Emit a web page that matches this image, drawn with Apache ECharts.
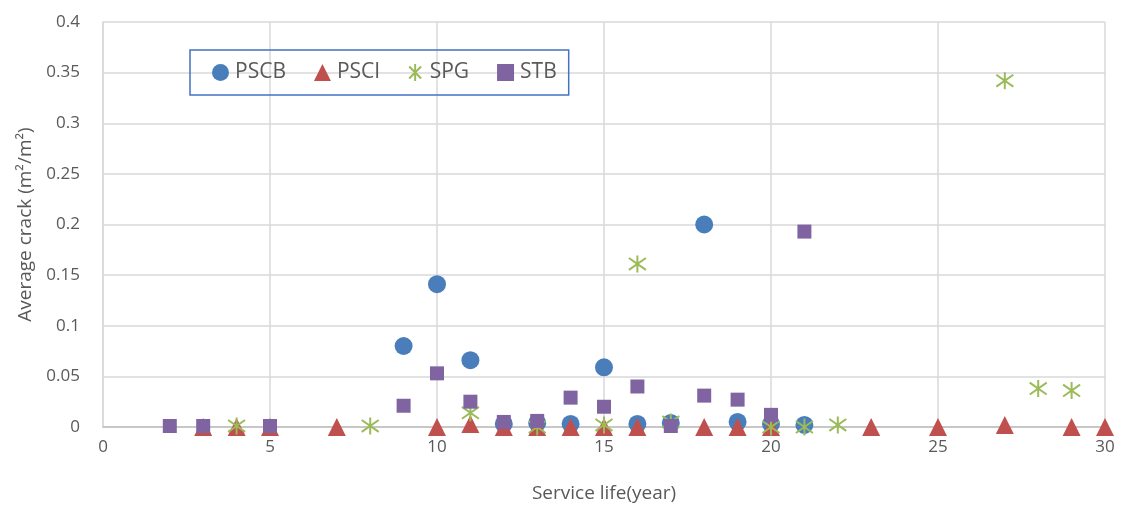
<!DOCTYPE html>
<html>
<head>
<meta charset="utf-8">
<script src="https://cdn.jsdelivr.net/npm/echarts@6/dist/echarts.min.js"></script>
<style>
html,body{margin:0;padding:0;background:#fff;}
#c{width:1122px;height:507px;}
</style>
</head>
<body>
<div id="c"></div>
<script>
// Data (service life in years, average crack m2/m2)
const pscbX = [9, 10, 11, 12, 13, 14, 15, 16, 17, 18, 19, 20, 21];
const pscbY = [0.080, 0.141, 0.066, 0.003, 0.004, 0.003, 0.059, 0.003, 0.004, 0.200, 0.005, 0.003, 0.002];

const psciX = [3, 4, 5, 7, 10, 11, 12, 13, 14, 15, 16, 18, 19, 20, 23, 25, 27, 29, 30];
const psciY = [0, 0, 0, 0, 0, 0.003, 0, 0, 0, 0, 0, 0, 0, 0, 0, 0, 0.002, 0, 0];

const spgX = [4, 8, 11, 13, 15, 16, 17, 20, 21, 22, 27, 28, 29];
const spgY = [0.001, 0.001, 0.014, 0, 0.002, 0.161, 0.005, 0, 0, 0.002, 0.342, 0.038, 0.036];

const stbX = [2, 3, 5, 9, 10, 11, 12, 13, 14, 15, 16, 17, 18, 19, 20, 21];
const stbY = [0.001, 0.001, 0.001, 0.021, 0.053, 0.025, 0.005, 0.006, 0.029, 0.020, 0.040, 0.001, 0.031, 0.027, 0.012, 0.193];

const seriesNames = ['PSCB', 'PSCI', 'SPG', 'STB'];
const xTicks = [0, 5, 10, 15, 20, 25, 30];

function pairs(xs, ys) { return xs.map((x, i) => [x, ys[i]]); }

const chart = echarts.init(document.getElementById('c'));
const txt = '#595959';
const font = '"Open Sans", "Noto Sans", sans-serif';
const starPath = 'path://M10,0L10,20M3,3L17,17M3,17L17,3';

chart.setOption({
  animation: false,
  backgroundColor: '#fff',
  textStyle: { fontFamily: font },
  grid: { left: 103, right: 17, top: 22, bottom: 80, outerBoundsMode: 'none', containLabel: false },
  legend: {
    data: seriesNames,
    left: 190, top: 50,
    padding: [12, 12, 12, 22],
    borderColor: '#4472C4', borderWidth: 1.5,
    itemGap: 28,
    itemWidth: 17, itemHeight: 17,
    textStyle: { fontSize: 21, color: txt, fontFamily: font, padding: [0,0,0,1] }
  },
  xAxis: {
    type: 'value', min: 0, max: 30, interval: 5,
    name: 'Service life(year)', nameLocation: 'middle', nameGap: 57,
    nameTextStyle: { fontSize: 19, color: txt },
    axisLine: { show: true, lineStyle: { color: '#BFBFBF', width: 1.5 } },
    axisTick: { show: false },
    axisLabel: { fontSize: 17, color: txt, margin: 12 },
    splitLine: { show: true, lineStyle: { color: '#D9D9D9', width: 1.5 } }
  },
  yAxis: {
    type: 'value', min: 0, max: 0.4, interval: 0.05,
    name: 'Average crack (m²/m²)', nameLocation: 'middle', nameGap: 66, nameRotate: 90,
    nameTextStyle: { fontSize: 19, color: txt },
    axisLine: { show: true, lineStyle: { color: '#D9D9D9', width: 1.5 } },
    axisTick: { show: false },
    axisLabel: { fontSize: 17, color: txt, margin: 23 },
    splitLine: { show: true, lineStyle: { color: '#D9D9D9', width: 1.5 } }
  },
  series: [
    { name: 'PSCB', type: 'scatter', symbol: 'circle', symbolSize: 18,
      itemStyle: { color: '#4A7EBB', opacity: 1 }, data: pairs(pscbX, pscbY) },
    { name: 'PSCI', type: 'scatter', symbol: 'triangle', symbolSize: 18,
      itemStyle: { color: '#C0504D', opacity: 1 }, data: pairs(psciX, psciY) },
    { name: 'SPG', type: 'scatter', symbol: starPath, symbolSize: 17,
      itemStyle: { color: 'rgba(0,0,0,0)', borderColor: '#9BBB59', borderWidth: 2, opacity: 1 },
      data: pairs(spgX, spgY) },
    { name: 'STB', type: 'scatter', symbol: 'rect', symbolSize: 14,
      itemStyle: { color: '#8064A2', opacity: 1 }, data: pairs(stbX, stbY) }
  ]
});
</script>
</body>
</html>
